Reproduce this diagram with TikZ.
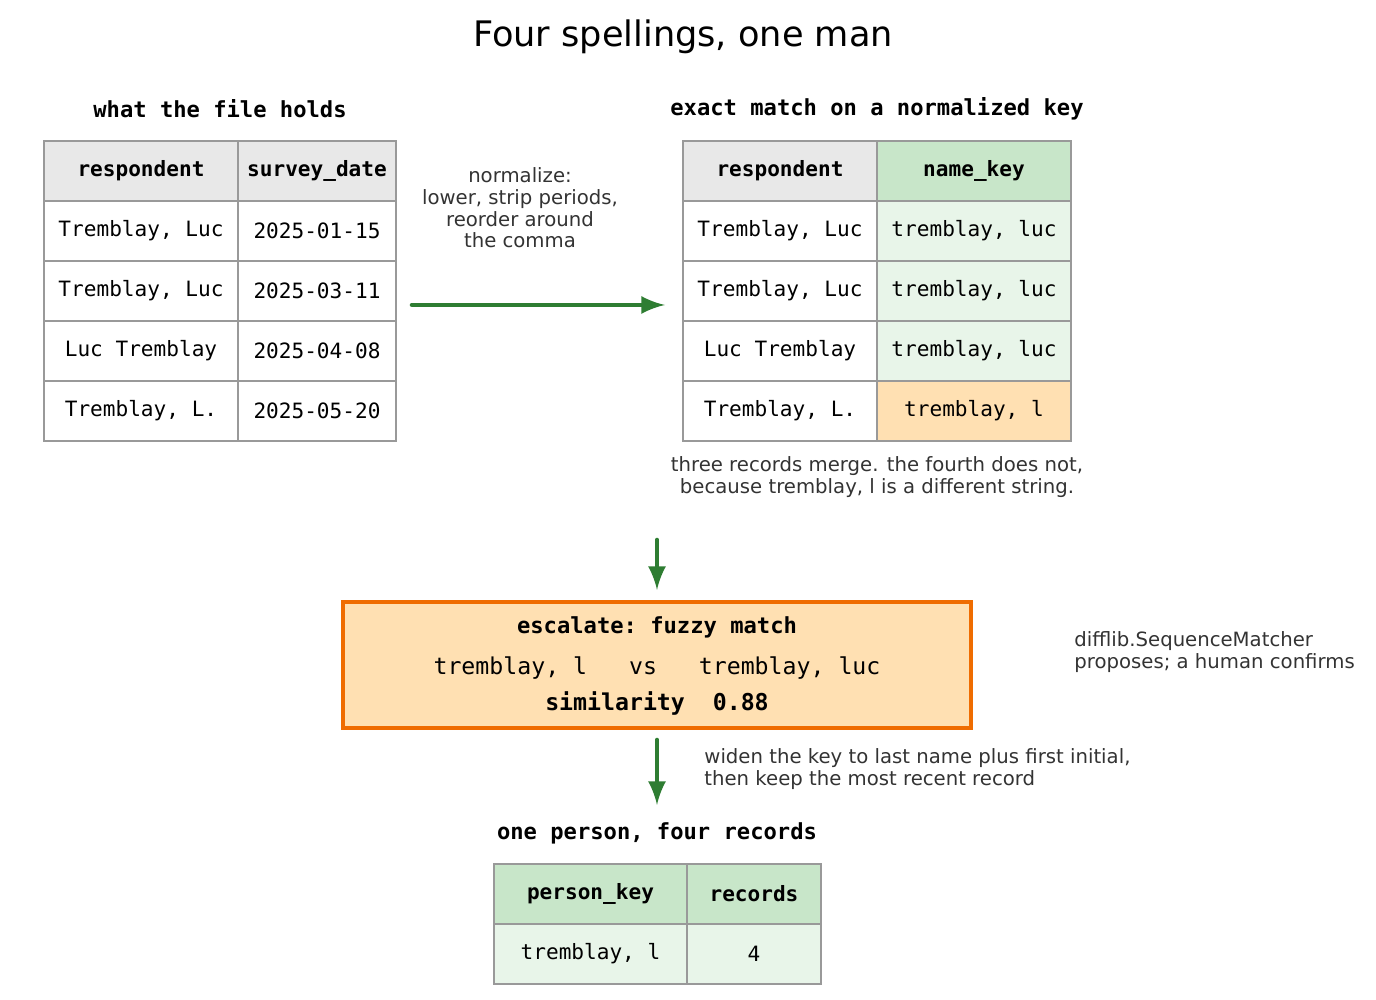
\documentclass[tikz,border=0pt]{standalone}
\usepackage{fontspec}
\setmainfont{DejaVu Sans}
\setmonofont{DejaVu Sans Mono}
\usetikzlibrary{positioning}
\tikzset{>=latex}
\definecolor{hdrgray}{HTML}{E8E8E8}
\definecolor{hdrgreen}{HTML}{C8E6C9}
\definecolor{lightgreen}{HTML}{E8F5E9}
\definecolor{softorange}{HTML}{FFE0B2}
\definecolor{deeporange}{HTML}{EF6C00}
\definecolor{arrowgreen}{HTML}{2E7D32}
\definecolor{notegray}{HTML}{333333}
\tikzstyle{cell}=[draw=black!40,line width=0.5pt,minimum height=0.6cm,inner sep=0pt,font=\ttfamily\fontsize{6}{7}\selectfont]
\tikzstyle{hcell}=[cell,font=\ttfamily\bfseries\fontsize{6}{7}\selectfont]
\tikzstyle{flow}=[->,line width=1.3pt,arrowgreen,line cap=round]
\tikzstyle{note}=[notegray,font=\fontsize{5.6}{6.2}\selectfont,align=center]
\tikzstyle{caption}=[font=\ttfamily\bfseries\fontsize{6.3}{7}\selectfont]

\begin{document}
\begin{tikzpicture}
  \useasboundingbox (0,0) rectangle (13.76,10);
  \node[font=\fontsize{10}{12}\selectfont] (title) at (6.83,9.63) {Four spellings, one man};

  % left table
  \node[caption] (capL) at (2.20,8.91) {what the file holds};
  \node[hcell,fill=hdrgray,minimum width=1.94cm] (L0a) at (1.41,8.29) {respondent};
  \node[hcell,fill=hdrgray,minimum width=1.58cm] (L0b) at (3.17,8.29) {survey\_date};
  \foreach \i/\nm/\dt in {1/{Tremblay, Luc}/2025-01-15,2/{Tremblay, Luc}/2025-03-11,
                          3/Luc Tremblay/2025-04-08,4/{Tremblay, L.}/2025-05-20}{
    \node[cell,minimum width=1.94cm] (L\i a) at (1.41,8.29-0.6*\i) {\nm};
    \node[cell,minimum width=1.58cm] (L\i b) at (3.17,8.29-0.6*\i) {\dt};
  }

  % right table
  \node[caption] (capR) at (8.77,8.91) {exact match on a normalized key};
  \node[hcell,fill=hdrgray,minimum width=1.94cm] (R0a) at (7.80,8.29) {respondent};
  \node[hcell,fill=hdrgreen,minimum width=1.94cm] (R0b) at (9.74,8.29) {name\_key};
  \foreach \i/\nm/\ky/\col in {1/{Tremblay, Luc}/{tremblay, luc}/lightgreen,
                               2/{Tremblay, Luc}/{tremblay, luc}/lightgreen,
                               3/Luc Tremblay/{tremblay, luc}/lightgreen,
                               4/{Tremblay, L.}/{tremblay, l}/softorange}{
    \node[cell,minimum width=1.94cm] (R\i a) at (7.80,8.29-0.6*\i) {\nm};
    \node[cell,fill=\col,minimum width=1.94cm] (R\i b) at (9.74,8.29-0.6*\i) {\ky};
  }

  % normalize step
  \coordinate (n1) at (4.12,6.95);
  \coordinate (n2) at (6.65,6.95);
  \draw[flow] (n1) -- (n2);
  \node[note,font=\fontsize{5.6}{6.2}\selectfont] (normtxt) at (5.20,7.92)
    {normalize:\\lower, strip periods,\\reorder around\\the comma};
  \node[note] (merge) at (8.77,5.23)
    {three records merge. the fourth does not,\\because tremblay, l is a different string.};

  % fuzzy box
  \node[draw=deeporange,fill=softorange,line width=1.2pt,minimum width=6.28cm,minimum height=1.26cm]
    (fuzzy) at (6.57,3.35) {};
  \node[caption] (fz1) at (6.57,3.73) {escalate: fuzzy match};
  \node[font=\ttfamily\fontsize{6.6}{7}\selectfont] (fz2) at (6.57,3.32)
    {tremblay, l\ \ \ vs\ \ \ tremblay, luc};
  \node[caption,font=\ttfamily\bfseries\fontsize{6.6}{7}\selectfont] (fz3) at (6.57,2.97)
    {similarity\ \ 0.88};
  \node[note,align=left,anchor=west] (difflib) at (10.62,3.48)
    {difflib.SequenceMatcher\\proposes; a human confirms};
  \coordinate (d1) at (6.57,4.60);
  \coordinate (d2) at (6.57,4.10);
  \draw[flow] (d1) -- (d2);

  \coordinate (e1) at (6.57,2.60);
  \coordinate (e2) at (6.57,1.95);
  \draw[flow] (e1) -- (e2);
  \node[note,align=left,anchor=west] (widen) at (6.92,2.31)
    {widen the key to last name plus first initial,\\then keep the most recent record};

  % result table
  \node[caption] (capB) at (6.57,1.67) {one person, four records};
  \node[hcell,fill=hdrgreen,minimum width=1.93cm] (B0a) at (5.905,1.06) {person\_key};
  \node[hcell,fill=hdrgreen,minimum width=1.34cm] (B0b) at (7.54,1.06) {records};
  \node[cell,fill=lightgreen,minimum width=1.93cm] (B1a) at (5.905,0.46) {tremblay, l};
  \node[cell,fill=lightgreen,minimum width=1.34cm] (B1b) at (7.54,0.46) {4};
\end{tikzpicture}
\end{document}
